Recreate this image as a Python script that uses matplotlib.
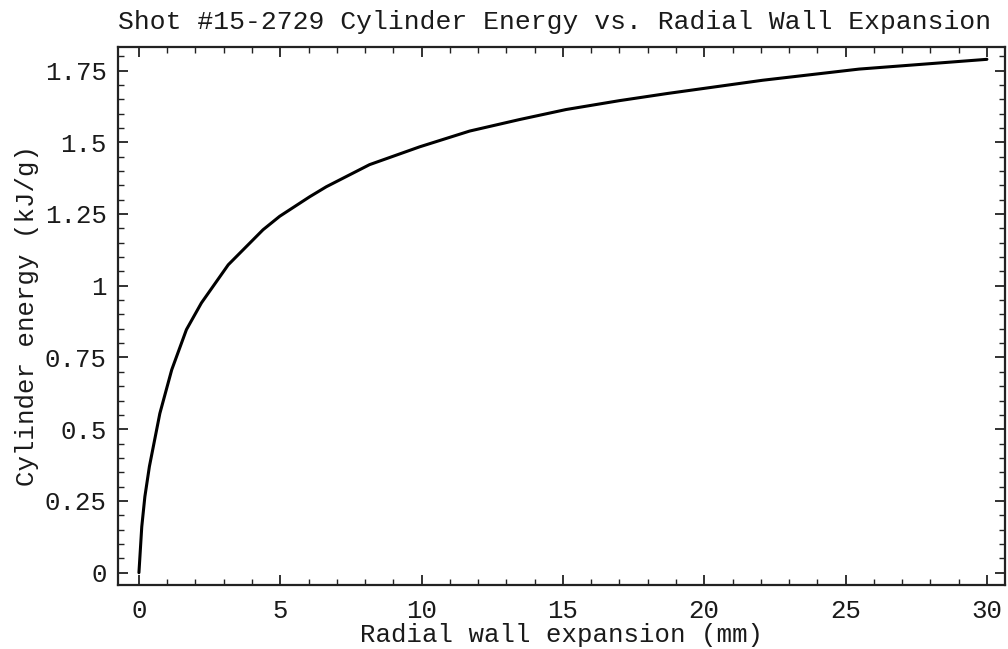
import matplotlib
matplotlib.use("Agg")
import matplotlib.pyplot as plt
from matplotlib.ticker import MultipleLocator

# Radial wall expansion (mm) and cylinder energy (kJ/g)
expansion_mm = [0, 0.1, 0.21, 0.37, 0.74, 1.16, 1.68, 2.21, 3.16, 4.39, 4.98,
                6.04, 6.63, 8.16, 9.93, 11.7, 13.46, 15.11, 17.0, 18.7, 22.06,
                25.48, 30.0]
energy_kj_g = [0, 0.16, 0.265, 0.37, 0.555, 0.707, 0.847, 0.94, 1.073, 1.195,
               1.242, 1.31, 1.345, 1.422, 1.484, 1.539, 1.579, 1.614, 1.645,
               1.670, 1.716, 1.755, 1.789]

x_ticks = [0, 5, 10, 15, 20, 25, 30]
y_ticks = [0, 0.25, 0.5, 0.75, 1.0, 1.25, 1.5, 1.75]
y_tick_labels = ["0", "0.25", "0.5", "0.75", "1", "1.25", "1.5", "1.75"]

plt.rcParams["font.family"] = ["Liberation Mono", "DejaVu Sans Mono"]
text_color = "#1a1a1a"

fig = plt.figure(figsize=(10.08, 6.49), dpi=100)
ax = fig.add_axes([0.117, 0.0986, 0.880, 0.829])

ax.plot(expansion_mm, energy_kj_g, color="black", lw=2.2,
        solid_joinstyle="round", solid_capstyle="round")

ax.set_xlim(-0.743, 30.64)
ax.set_ylim(-0.043, 1.832)

ax.set_xticks(x_ticks)
ax.set_xticklabels([str(t) for t in x_ticks])
ax.set_yticks(y_ticks)
ax.set_yticklabels(y_tick_labels)
ax.xaxis.set_minor_locator(MultipleLocator(1))
ax.yaxis.set_minor_locator(MultipleLocator(0.05))

ax.tick_params(which="both", direction="in", top=True, right=True,
               colors="#222222", labelcolor=text_color, labelsize=18.5)
ax.tick_params(which="major", length=7, width=1.3)
ax.tick_params(which="minor", length=4, width=1.0)
ax.tick_params(axis="x", which="major", pad=10)
ax.tick_params(axis="y", which="major", pad=8)

for s in ax.spines.values():
    s.set_linewidth(1.6)
    s.set_color("#222222")

ax.set_xlabel("Radial wall expansion (mm)", fontsize=18.5, color=text_color, labelpad=0)
ax.set_ylabel("Cylinder energy (kJ/g)", fontsize=18.5, color=text_color, labelpad=4)
ax.set_title("Shot #15-2729 Cylinder Energy vs. Radial Wall Expansion",
             fontsize=19, color=text_color, pad=13, x=0.492)

fig.savefig("out.png", dpi=100, facecolor="white")
